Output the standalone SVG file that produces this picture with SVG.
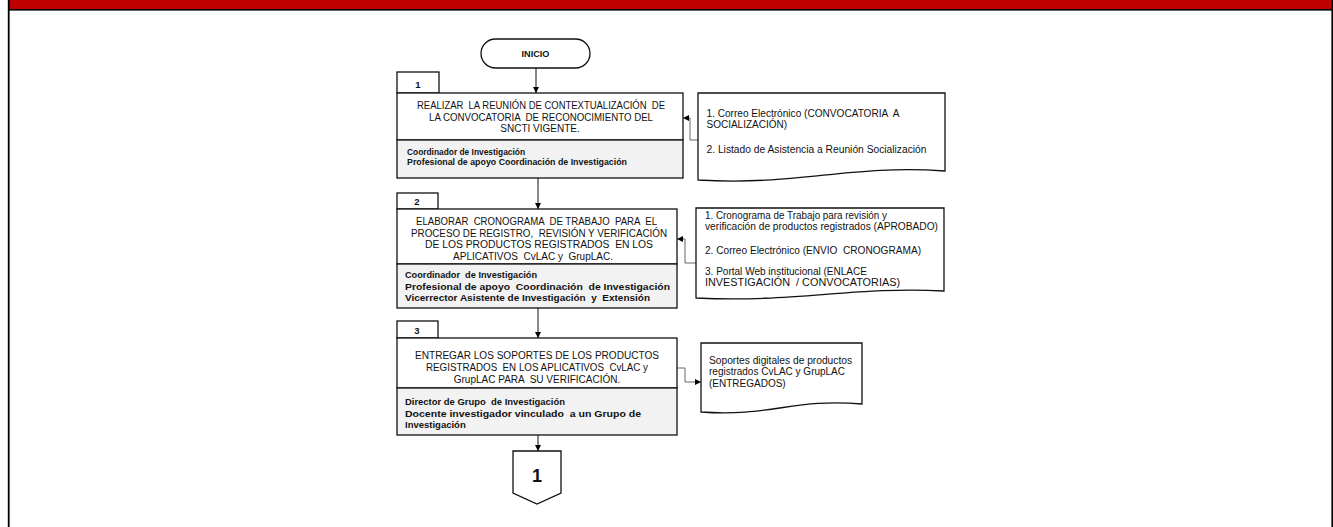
<svg xmlns="http://www.w3.org/2000/svg" width="1333" height="527" viewBox="0 0 1333 527">
<defs>
<marker id="ah" viewBox="0 0 10 10" refX="10" refY="5" markerWidth="7" markerHeight="6" orient="auto" markerUnits="userSpaceOnUse"><path d="M0,0 L10,5 L0,10 Z" fill="#000"/></marker>
<style>
.t{font-family:"Liberation Sans",Arial,sans-serif;font-size:10px;fill:#111;white-space:pre}
.b{font-family:"Liberation Sans",Arial,sans-serif;font-size:9.5px;font-weight:bold;fill:#111;white-space:pre}
.box{fill:#fff;stroke:#111;stroke-width:1.3}
.resp{fill:#f2f2f2;stroke:#111;stroke-width:1.3}
.doc{fill:#fff;stroke:#111;stroke-width:1.3}
.flow{fill:none;stroke:#111;stroke-width:1;marker-end:url(#ah)}
.link{fill:none;stroke:#666;stroke-width:1;marker-end:url(#ah)}
</style>
</defs>
<g id="frame">
<rect x="9" y="0" width="1324" height="9" fill="#c00000"/>
<rect x="9" y="9" width="1324" height="1.6" fill="#000"/>
<rect x="7.8" y="0" width="1.8" height="527" fill="#000"/>
<rect x="1331.4" y="0" width="1.6" height="527" fill="#000"/>
</g>
<g id="connectors">
<path class="flow" d="M536,68 V93"/>
<path class="flow" d="M538,178 V209"/>
<path class="flow" d="M538,308 V338"/>
<path class="flow" d="M538,435 V451"/>
<path class="link" d="M698,140 H690 V118 H683"/>
<path class="link" d="M696,263 H685 V239 H677"/>
<path class="link" d="M677,368 H685 V382 H701"/>
</g>
<g id="inicio">
<rect x="481" y="39" width="109" height="29" rx="14.5" ry="14.5" class="box"/>
<text class="b" x="535.5" y="56.5" text-anchor="middle" textLength="28" lengthAdjust="spacingAndGlyphs">INICIO</text>
</g>
<g id="step1">
<rect x="397" y="72" width="42" height="21" class="box"/>
<text class="b" x="418" y="87.5" text-anchor="middle">1</text>
<rect x="397" y="93" width="286" height="47" class="box"/>
<rect x="397" y="140" width="286" height="38" class="resp"/>
<text class="t" x="417" y="108.5" textLength="248" lengthAdjust="spacingAndGlyphs">REALIZAR  LA REUNIÓN DE CONTEXTUALIZACIÓN  DE</text>
<text class="t" x="429" y="120.5" textLength="224" lengthAdjust="spacingAndGlyphs">LA CONVOCATORIA  DE RECONOCIMIENTO DEL</text>
<text class="t" x="540" y="132" text-anchor="middle">SNCTI VIGENTE.</text>
<text class="b" x="407" y="155" textLength="118" lengthAdjust="spacingAndGlyphs">Coordinador de Investigación</text>
<text class="b" x="407" y="165" textLength="220" lengthAdjust="spacingAndGlyphs">Profesional de apoyo Coordinación de Investigación</text>
</g>
<g id="doc1">
<path class="doc" d="M698,93 H945 V171 C 850,164 800,186 698,180 Z"/>
<text class="t" x="706.5" y="116.5" textLength="193" lengthAdjust="spacingAndGlyphs">1. Correo Electrónico (CONVOCATORIA  A</text>
<text class="t" x="706.5" y="128">SOCIALIZACIÓN)</text>
<text class="t" x="706.5" y="152.5" textLength="220" lengthAdjust="spacingAndGlyphs">2. Listado de Asistencia a Reunión Socialización</text>
</g>
<g id="step2">
<rect x="397" y="193" width="41" height="16" class="box"/>
<text class="b" x="417" y="205" text-anchor="middle">2</text>
<rect x="397" y="209" width="280" height="55" class="box"/>
<rect x="397" y="264" width="280" height="44" class="resp"/>
<text class="t" x="416" y="225" textLength="241" lengthAdjust="spacingAndGlyphs">ELABORAR  CRONOGRAMA  DE TRABAJO  PARA  EL</text>
<text class="t" x="411" y="236.5" textLength="256" lengthAdjust="spacingAndGlyphs">PROCESO DE REGISTRO,  REVISIÓN Y VERIFICACIÓN</text>
<text class="t" x="425" y="248" textLength="228" lengthAdjust="spacingAndGlyphs">DE LOS PRODUCTOS REGISTRADOS  EN LOS</text>
<text class="t" x="533" y="259.5" text-anchor="middle">APLICATIVOS  CvLAC y  GrupLAC.</text>
<text class="b" x="405" y="278" textLength="132" lengthAdjust="spacingAndGlyphs">Coordinador  de Investigación</text>
<text class="b" x="405" y="289.5" textLength="265" lengthAdjust="spacingAndGlyphs">Profesional de apoyo  Coordinación  de Investigación</text>
<text class="b" x="405" y="301" textLength="245" lengthAdjust="spacingAndGlyphs">Vicerrector Asistente de Investigación  y  Extensión</text>
</g>
<g id="doc2">
<path class="doc" d="M696,208 H944 V291 C 855,286 795,303 696,298 Z"/>
<text class="t" x="705" y="218.5" textLength="182" lengthAdjust="spacingAndGlyphs">1. Cronograma de Trabajo para revisión y</text>
<text class="t" x="705" y="230" textLength="233" lengthAdjust="spacingAndGlyphs">verificación de productos registrados (APROBADO)</text>
<text class="t" x="705" y="253.5" textLength="216" lengthAdjust="spacingAndGlyphs">2. Correo Electrónico (ENVIO  CRONOGRAMA)</text>
<text class="t" x="705" y="275" textLength="162" lengthAdjust="spacingAndGlyphs">3. Portal Web institucional (ENLACE</text>
<text class="t" x="705" y="286" textLength="195" lengthAdjust="spacingAndGlyphs">INVESTIGACIÓN  / CONVOCATORIAS)</text>
</g>
<g id="step3">
<rect x="397" y="321" width="41" height="17" class="box"/>
<text class="b" x="417" y="333.5" text-anchor="middle">3</text>
<rect x="397" y="338" width="280" height="50" class="box"/>
<rect x="397" y="388" width="280" height="47" class="resp"/>
<text class="t" x="415" y="359" textLength="244" lengthAdjust="spacingAndGlyphs">ENTREGAR LOS SOPORTES DE LOS PRODUCTOS</text>
<text class="t" x="426" y="371" textLength="222" lengthAdjust="spacingAndGlyphs">REGISTRADOS  EN LOS APLICATIVOS  CvLAC y</text>
<text class="t" x="537" y="382.5" text-anchor="middle">GrupLAC PARA  SU VERIFICACIÓN.</text>
<text class="b" x="405" y="405" textLength="160" lengthAdjust="spacingAndGlyphs">Director de Grupo  de Investigación</text>
<text class="b" x="405" y="416.5" textLength="236" lengthAdjust="spacingAndGlyphs">Docente investigador vinculado  a un Grupo de</text>
<text class="b" x="405" y="428">Investigación</text>
</g>
<g id="doc3">
<path class="doc" d="M701,343 H862 V404 C 795,398 770,417 701,412 Z"/>
<text class="t" x="709" y="363.5" textLength="143" lengthAdjust="spacingAndGlyphs">Soportes digitales de productos</text>
<text class="t" x="709" y="375" textLength="136" lengthAdjust="spacingAndGlyphs">registrados CvLAC y GrupLAC</text>
<text class="t" x="709" y="386.5">(ENTREGADOS)</text>
</g>
<g id="offpage1">
<path class="box" d="M513,451 H561 V493 L537,504 L513,493 Z"/>
<text x="537" y="481.5" text-anchor="middle" style="font-family:'Liberation Sans',Arial,sans-serif;font-size:18px;font-weight:bold;fill:#111">1</text>
</g>
</svg>
